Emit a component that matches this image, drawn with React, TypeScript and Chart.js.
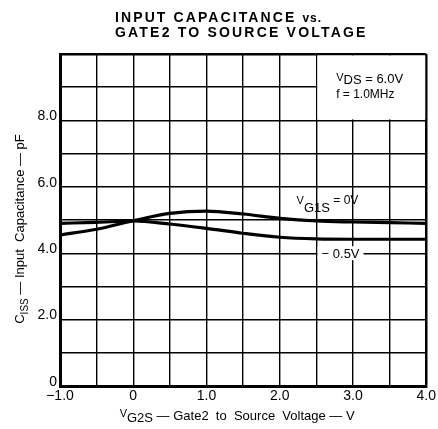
import React, { useEffect, useRef } from "react";
import { Chart, registerables } from "chart.js";

Chart.register(...registerables);

const xValues = [-1, -0.5, 0, 0.5, 1, 1.5, 2, 2.5, 3, 3.5, 4];
const vg1s0V = [4.55, 4.72, 4.98, 5.2, 5.27, 5.18, 5.05, 4.97, 4.94, 4.92, 4.9];
const vg1sMinus05V = [4.9, 4.93, 4.97, 4.88, 4.75, 4.6, 4.48, 4.43, 4.42, 4.42, 4.42];
const yTickLabels = ["0", "", "2.0", "", "4.0", "", "6.0", "", "8.0", "", ""];
const xTickLabels: Record<string, string> = { "-1": "\u22121.0", "0": "0", "1": "1.0", "2": "2.0", "3": "3.0", "4": "4.0" };

const FONT = "'Liberation Sans', Arial, Helvetica, sans-serif";

type Part = { t: string; size: number; dy?: number; bold?: boolean };

function richWidth(ctx: CanvasRenderingContext2D, parts: Part[]) {
  let w = 0;
  for (const p of parts) {
    ctx.font = `${p.bold ? "bold " : ""}${p.size}px ${FONT}`;
    w += ctx.measureText(p.t).width;
  }
  return w;
}

function drawRich(ctx: CanvasRenderingContext2D, parts: Part[], x: number, y: number, align: "left" | "center") {
  const w = richWidth(ctx, parts);
  let cx = align === "center" ? x - w / 2 : x;
  ctx.textAlign = "left";
  ctx.textBaseline = "alphabetic";
  for (const p of parts) {
    ctx.font = `${p.bold ? "bold " : ""}${p.size}px ${FONT}`;
    ctx.fillText(p.t, cx, y + (p.dy || 0));
    cx += ctx.measureText(p.t).width;
  }
}

const textPlugin = {
  id: "textPlugin",
  beforeDraw(chart: any) {
    const ctx = chart.ctx;
    ctx.save();
    ctx.fillStyle = "#fff";
    ctx.fillRect(0, 0, chart.width, chart.height);
    ctx.restore();
  },
  beforeDatasetsDraw(chart: any) {
    const { ctx, scales } = chart;
    const x1 = scales.x.getPixelForValue(2.5);
    const x2 = scales.x.getPixelForValue(4);
    const y1 = scales.y.getPixelForValue(10);
    const y2 = scales.y.getPixelForValue(8);
    ctx.save();
    ctx.fillStyle = "#fff";
    ctx.fillRect(x1 + 1, y1 + 1.5, x2 - x1 - 2, y2 - y1 - 2.5);
    ctx.restore();
  },
  afterDraw(chart: any) {
    const { ctx, scales } = chart;
    const xs = scales.x;
    const ys = scales.y;
    ctx.save();
    ctx.fillStyle = "#000";

    // Title
    ctx.font = `bold 14px ${FONT}`;
    (ctx as any).letterSpacing = "2.1px";
    ctx.textAlign = "left";
    ctx.textBaseline = "alphabetic";
    ctx.fillText("INPUT CAPACITANCE", 115, 22);
    const w1 = ctx.measureText("INPUT CAPACITANCE ").width;
    ctx.font = `bold 12px ${FONT}`;
    (ctx as any).letterSpacing = "1px";
    ctx.fillText("vs.", 115 + w1, 22);
    ctx.font = `bold 14px ${FONT}`;
    (ctx as any).letterSpacing = "2.2px";
    ctx.fillText("GATE2 TO SOURCE VOLTAGE", 115, 37);
    (ctx as any).letterSpacing = "0px";

    // X axis title
    drawRich(
      ctx,
      [
        { t: "V", size: 11, dy: -3 },
        { t: "G2S", size: 13, dy: 2 },
        { t: " \u2014 Gate2  to  Source  Voltage \u2014 V", size: 13 },
      ],
      (xs.left + xs.right) / 2 - 6,
      420,
      "center"
    );

    // Y axis title (rotated)
    ctx.save();
    ctx.translate(24, (ys.top + ys.bottom) / 2 + 9);
    ctx.rotate(-Math.PI / 2);
    drawRich(
      ctx,
      [
        { t: "C", size: 13 },
        { t: "ISS", size: 10, dy: 4 },
        { t: " \u2014 Input  Capacitance \u2014 pF", size: 13 },
      ],
      0,
      0,
      "center"
    );
    ctx.restore();

    // Condition annotation
    drawRich(
      ctx,
      [
        { t: "V", size: 11, dy: -2 },
        { t: "DS", size: 13, dy: 1 },
        { t: " = 6.0V", size: 13 },
      ],
      xs.getPixelForValue(2.77),
      ys.getPixelForValue(9.12),
      "left"
    );
    drawRich(ctx, [{ t: "f = 1.0MHz", size: 12 }], xs.getPixelForValue(2.77), ys.getPixelForValue(8.68), "left");

    // Series labels
    drawRich(
      ctx,
      [
        { t: "V", size: 11 },
        { t: "G1S", size: 13, dy: 8 },
        { t: " = 0V", size: 12 },
      ],
      xs.getPixelForValue(2.23),
      ys.getPixelForValue(5.47),
      "left"
    );

    ctx.font = `13px ${FONT}`;
    const lbl = "\u2212 0.5V";
    const lw = ctx.measureText(lbl).width;
    const lx = xs.getPixelForValue(2.83);
    const ly = ys.getPixelForValue(4.0);
    ctx.fillStyle = "#fff";
    ctx.fillRect(lx - lw / 2 - 4, ly - 7, lw + 8, 14);
    ctx.fillStyle = "#000";
    ctx.textAlign = "center";
    ctx.textBaseline = "middle";
    ctx.fillText(lbl, lx, ly + 1);

    ctx.restore();
  },
};

export default function App() {
  const ref = useRef<HTMLCanvasElement | null>(null);

  useEffect(() => {
    document.body.style.margin = "0";
    const canvas = ref.current;
    if (!canvas) return;
    const gridWidth = (ctx: any, edge: number) => (ctx.tick && ctx.tick.value === edge ? 2.5 : 1.4);
    const chart = new Chart(canvas, {
      type: "line",
      data: {
        datasets: [
          {
            label: "VG1S = 0V",
            data: xValues.map((x, i) => ({ x, y: vg1s0V[i] })),
            borderColor: "#000",
            borderWidth: 3.2,
            pointRadius: 0,
            tension: 0.4,
            cubicInterpolationMode: "monotone",
            fill: false,
          },
          {
            label: "-0.5V",
            data: xValues.map((x, i) => ({ x, y: vg1sMinus05V[i] })),
            borderColor: "#000",
            borderWidth: 3.2,
            pointRadius: 0,
            tension: 0.4,
            cubicInterpolationMode: "monotone",
            fill: false,
          },
        ],
      },
      options: {
        responsive: false,
        animation: false,
        devicePixelRatio: 1,
        layout: { padding: { left: 0, top: 54, right: 11, bottom: 0 } },
        plugins: {
          legend: { display: false },
          title: { display: false },
          tooltip: { enabled: false },
        },
        scales: {
          x: {
            type: "linear",
            min: -1,
            max: 4,
            ticks: {
              stepSize: 0.5,
              autoSkip: false,
              maxRotation: 0,
              padding: 2,
              color: "#000",
              font: { family: FONT, size: 14 },
              callback: (v: any) => xTickLabels[String(v)] ?? "",
            },
            grid: {
              color: "#000",
              lineWidth: (c: any) => gridWidth(c, 4),
              drawTicks: false,
            },
            border: { display: true, color: "#000", width: 3 },
            afterFit: (s: any) => {
              s.height = 43;
            },
          },
          y: {
            type: "linear",
            min: 0,
            max: 10,
            ticks: {
              stepSize: 1,
              autoSkip: false,
              padding: 3,
              labelOffset: -4,
              color: "#000",
              font: { family: FONT, size: 14 },
              callback: (v: any) => yTickLabels[Math.round(Number(v))] ?? "",
            },
            grid: {
              color: "#000",
              lineWidth: (c: any) => gridWidth(c, 10),
              drawTicks: false,
            },
            border: { display: true, color: "#000", width: 3 },
            afterFit: (s: any) => {
              s.width = 60;
            },
          },
        },
      },
      plugins: [textPlugin],
    } as any);
    return () => chart.destroy();
  }, []);

  return (
    <div style={{ width: 438, height: 429 }}>
      <canvas ref={ref} width={438} height={429} style={{ display: "block", width: 438, height: 429 }} />
    </div>
  );
}
